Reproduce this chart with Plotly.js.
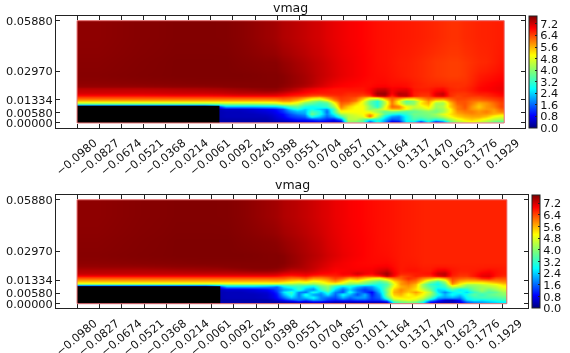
<!DOCTYPE html>
<html><head><meta charset="utf-8">
<script src="https://cdn.plot.ly/plotly-3.0.1.min.js"></script>
<style>html,body{margin:0;padding:0;background:#fff}#c{width:570px;height:353px;filter:blur(0.35px)}</style>
</head><body><div id="c"></div>
<script>
const xTickVals=[-0.098,-0.0827,-0.0674,-0.0521,-0.0368,-0.0214,-0.0061,0.0092,0.0245,0.0398,0.0551,0.0704,0.0857,0.1011,0.1164,0.1317,0.147,0.1623,0.1776,0.1929];
const xTickText=["−0.0980","−0.0827","−0.0674","−0.0521","−0.0368","−0.0214","−0.0061","0.0092","0.0245","0.0398","0.0551","0.0704","0.0857","0.1011","0.1164","0.1317","0.1470","0.1623","0.1776","0.1929"];
const yTickVals=[0,0.0058,0.01334,0.0297,0.0588];
const yTickText=["0.00000","0.00580","0.01334","0.02970","0.05880"];
const cbTicks=[0,0.8,1.6,2.4,3.2,4.0,4.8,5.6,6.4,7.2];
const cbText=["0.0","0.8","1.6","2.4","3.2","4.0","4.8","5.6","6.4","7.2"];
const xEdges=[-0.098,-0.07,-0.04,-0.02,0,0.009,0.018,0.027,0.036,0.041,0.046,0.051,0.056,0.061,0.066,0.071,0.076,0.081,0.086,0.091,0.096,0.101,0.106,0.111,0.116,0.121,0.126,0.131,0.136,0.141,0.146,0.151,0.156,0.161,0.166,0.171,0.176,0.181,0.186,0.191,0.196];
const yEdges=[0,0.0015,0.003,0.0045,0.006,0.0075,0.009,0.0105,0.012,0.0135,0.015,0.0165,0.018,0.02,0.0215,0.025,0.03,0.04,0.0588];
const stepX=[-0.098,0];
const stepY=[0,0.0099];
const domainX=[-0.098,0.196];
const domainY=[0,0.0588];
const jet=[[0,'#00007f'],[0.11,'#0000ff'],[0.35,'#00ffff'],[0.5,'#7aff7a'],[0.65,'#ffff00'],[0.89,'#ff0000'],[1,'#7f0000']];

const vmagTop=[
[.3,.3,.3,.3,.3,.3,.3,.3, .3,.3,.3,.4,.5,.5,.6,.5,.4,.4, 4.0,3.8,3.4,1.2,3.0,1.8,.5,.6,2.6,2.4,.8,2.6,.6,1.4,3.4,4.2,4.6,4.8,4.5,4.2,3.6,3.4],
[.3,.3,.3,.3,.3,.3,.3,.3, .5,.6,.8,1.0,1.0,1.2,1.4,1.1,.9,1.6, 4.4,4.4,3.8,2.8,3.0,2.2,1.4,1.6,2.8,3.4,3.0,3.4,3.0,3.4,4.2,4.8,5.2,5.4,5.2,4.8,4.4,4.2],
[.3,.3,.3,.3,.4,.4,.4,.4, .6,.8,1.2,1.4,1.6,3.0,2.4,1.6,2.2,3.4, 4.4,4.6,4.8,6.2,4.4,2.8,2.0,1.8,2.8,3.6,3.6,3.8,4,4.4,5.0,5.4,5.6,5.7,5.7,5.5,5.0,4.8],
[.3,.3,.3,.3,.4,.4,.4,.5, .7,.9,1.4,1.8,2.0,3.8,3.0,1.8,2.8,4.2, 4.6,4.8,5.0,5.6,4.8,3.6,3.0,2.8,3.2,3.8,3.8,3.9,4.2,4.8,5.2,5.6,5.8,5.9,5.8,5.8,5.6,5.4],
[.3,.3,.3,.3,.4,.4,.5,.6, .8,1.2,1.8,2.2,2.2,3.4,3.0,1.6,3.4,5.0, 5.0,5.0,5.0,4.8,4.2,3.6,3.8,3.6,3.4,3.6,3.8,4,3.8,4.2,5,5.8,6.0,6.0,5.8,6.0,5.7,6.0],
[.3,.3,.3,.3,.5,.5,.6,.8, 1.0,1.4,2.4,3.0,2.4,2.8,2.4,2.0,3.4,5.6, 5.2,5.0,5.0,4.0,4.2,5.0,5.6,5.6,5.0,4.2,4.4,4.8,4.0,4.2,5.0,6.0,6.2,5.8,5.6,5.8,5.8,6.2],
[.3,.3,.3,.3,2.2,2.2,2.2,2.3, 2.4,2.8,3.4,3.6,3.0,2.8,3.0,3.2,4.2,6.0, 5.4,5.0,5.0,4.0,3.0,4.8,6.2,6.0,5.0,4.6,4.8,5.2,4.2,4.4,5.4,6.0,6.3,5.8,5.4,5.8,6.0,6.4],
[4.3,4.3,4.3,4.3,4.4,4.4,4.4,4.5, 4.6,5.0,5.0,4.7,3.8,3.6,3.2,3.4,4.8,6.2, 6.0,5.4,4.8,3.6,3.0,4.4,6.0,5.0,3.8,4.0,5.2,5.6,4.2,4.2,5.4,6.2,6.3,6.0,5.6,5.8,6.1,6.4],
[5.5,5.5,5.5,5.5,5.5,5.5,5.5,5.5, 5.6,5.8,5.8,5.4,4.8,4.2,3.8,4.4,5.6,6.4, 6.3,6.0,5.0,3.8,3.0,4.6,6.1,5.0,3.6,4.0,5.0,5.8,5.0,4.8,5.8,6.3,6.3,6.1,6.0,6.1,6.3,6.5],
[6.2,6.2,6.2,6.2,6.2,6.2,6.2,6.2, 6.2,6.3,6.2,6.0,5.6,5.2,5.0,5.6,6.2,6.5, 6.4,6.2,5.6,4.8,4.6,5.6,6.2,5.8,5.4,5.4,5.8,6.2,6.0,6.0,6.2,6.4,6.4,6.3,6.3,6.4,6.5,6.6],
[6.75,6.75,6.8,6.8,6.85,6.9,6.9,6.9, 6.9,6.8,6.7,6.6,6.5,6.3,6.2,6.4,6.5,6.6, 6.5,6.5,6.3,6.4,7.2,7.3,6.6,7.2,7.3,6.7,6.5,6.5,7.0,7.1,6.6,6.4,6.5,6.5,6.5,6.6,6.7,6.8],
[7.15,7.15,7.2,7.2,7.25,7.3,7.3,7.3, 7.25,7.15,7.0,6.9,6.8,6.7,6.7,6.7,6.7,6.7, 6.6,6.6,6.6,6.8,7.55,7.6,6.9,7.4,7.3,6.7,6.6,6.6,7.1,7.3,6.6,6.5,6.5,6.6,6.7,6.7,6.8,6.9],
[7.3,7.3,7.35,7.4,7.45,7.5,7.55,7.6, 7.6,7.5,7.4,7.25,7.05,6.95,6.85,6.8,6.75,6.75, 6.75,6.75,6.75,6.9,7.25,7.3,6.95,7.05,7.1,6.75,6.7,6.7,6.85,6.9,6.65,6.6,6.62,6.72,6.85,6.9,6.95,7.0],
[7.55,7.55,7.6,7.6,7.65,7.68,7.7,7.7, 7.7,7.62,7.55,7.45,7.35,7.22,7.1,7.0,6.9,6.85, 6.85,6.82,6.8,6.85,6.95,6.98,6.88,6.9,6.85,6.7,6.65,6.65,6.7,6.72,6.6,6.55,6.6,6.7,6.85,6.9,6.95,7.0],
[7.65,7.68,7.7,7.72,7.72,7.72,7.72,7.72, 7.72,7.68,7.62,7.55,7.48,7.38,7.25,7.12,7.02,6.95, 6.9,6.88,6.85,6.82,6.85,6.85,6.8,6.8,6.78,6.7,6.65,6.6,6.6,6.58,6.55,6.55,6.55,6.65,6.78,6.85,6.9,6.95],
[7.7,7.73,7.75,7.75,7.75,7.75,7.74,7.72, 7.72,7.68,7.62,7.55,7.48,7.4,7.3,7.22,7.14,7.06, 7.0,6.95,6.9,6.85,6.82,6.8,6.76,6.72,6.68,6.64,6.6,6.55,6.5,6.48,6.45,6.45,6.5,6.6,6.7,6.75,6.8,6.85],
[7.68,7.72,7.75,7.75,7.75,7.72,7.7,7.68, 7.68,7.6,7.55,7.48,7.42,7.35,7.28,7.2,7.12,7.05, 7.0,6.95,6.9,6.85,6.8,6.78,6.74,6.7,6.68,6.64,6.6,6.55,6.5,6.48,6.45,6.45,6.5,6.55,6.6,6.62,6.68,6.75],
[7.65,7.7,7.73,7.73,7.72,7.68,7.62,7.55, 7.5,7.42,7.38,7.33,7.28,7.22,7.18,7.1,7.05,7.0, 6.95,6.92,6.88,6.84,6.8,6.78,6.76,6.74,6.72,6.7,6.68,6.65,6.62,6.58,6.55,6.55,6.6,6.62,6.65,6.66,6.68,6.7]
];

const vmagBottom=[
[.3,.3,.3,.3,.3,.3,.3,.3, .2,.3,.3,.4,.3,.5,.5,.4,.3,.3,.3,.3, .3,.3,.3,.4, 3.0,3.6,3.8,3.6,2.8,.8,.4,.4,.4,.6,1.4,1.8,2,2.2,2.4,2.6],
[.3,.3,.3,.3,.3,.3,.3,.3, .6,.9,1.3,1.7,1.3,1.9,1.7,1.2,1.0,1.2,1.1,1.3, 1.3,1.1,1.2,2.0, 4.2,4.5,4.8,4.6,3.8,2.2,1.2,.6,.5,1.0,2.4,2.8,2.6,2.8,3,3.2],
[.3,.3,.3,.3,.4,.4,.4,.5, .9,1.6,2.4,1.8,2.3,2.8,1.8,1.6,1.4,2.2,1.6,2.0, 2.0,1.2,1.6,3.4, 5.0,5.2,5.2,5.0,4.6,3.6,2.2,2.0,2.2,1.8,2.8,3.2,3.4,3.4,3.4,3.6],
[.3,.3,.3,.3,.4,.4,.4,.5, 1.0,2.2,3.0,1.7,3.0,2.0,1.8,2.6,1.6,2.8,2.2,1.4, 2.2,1.0,1.8,4.0, 5.4,5.6,5.0,5.4,5.0,4.2,3.0,2.2,2.8,2.4,3.0,3.6,3.2,3.6,3.8,4.0],
[.3,.3,.3,.3,.4,.4,.5,.6, 1.2,2.6,3.2,1.8,1.6,3.0,2.2,3.2,1.8,1.4,3.0,1.8, 1.3,.8,2.2,3.8, 5.6,5.8,5.4,5.8,5.2,4.4,2.6,1.8,2.6,3.0,2.4,3.2,3.8,3.4,3.6,4.2],
[.3,.3,.3,.3,.5,.5,.6,.8, 1.4,2.0,2.2,3.2,2.2,1.8,3.2,3.8,2.4,1.6,2.4,1.6, 1.2,1.6,2.4,4.0, 5.4,5.9,5.6,5.2,4.6,3.8,2.4,2.6,3.4,2.6,3.0,3.8,4.2,3.8,4.2,4.6],
[.3,.3,.3,.3,2.2,2.2,2.2,2.0, 1.6,2.6,3.0,3.2,2.8,2.6,3.6,4.0,3.0,2.4,2.8,2.2, 1.8,2.0,2.8,3.6, 5.0,5.6,5.8,5.4,4.2,3.4,3.0,3.2,4.6,4.4,3.8,4.0,4.2,4.4,4.6,5.0],
[4.3,4.3,4.3,4.3,4.4,4.4,4.4,4.4, 4.3,4.2,4.2,4.0,4.2,4.0,4.4,4.8,4.6,4.4,3.9,3.8, 3.6,3.2,3.0,3.4, 4.8,5.8,6.0,5.6,4.2,3.2,2.8,3.6,5.8,5.0,4.4,4.4,4.6,4.8,5.0,5.4],
[5.5,5.5,5.5,5.5,5.5,5.5,5.5,5.5, 5.6,5.4,5.2,5.0,5.2,4.8,5.0,5.4,5.8,5.2,4.6,4.8, 4.2,3.8,3.4,4.0, 5.2,5.8,6.2,6.0,5.2,4.0,3.2,4.2,6.2,5.6,5.4,5.4,5.4,5.6,5.8,5.9],
[6.2,6.2,6.2,6.2,6.2,6.2,6.2,6.2, 6.2,6.2,6.0,6.0,6.2,5.8,5.8,6.0,6.4,6.1,5.6,5.8, 5.4,5.0,4.8,5.4, 6.0,6.2,6.6,6.4,5.9,5.6,5.2,5.6,6.4,6.2,6.1,6.2,6.6,6.7,6.3,6.3],
[6.9,6.9,6.9,6.9,6.9,6.9,6.9,6.9, 6.85,6.7,6.6,6.7,6.8,6.55,6.45,6.55,6.65,6.7,6.6,6.65, 6.4,6.4,6.6,7.3, 6.85,6.35,6.5,6.7,6.6,6.6,7.0,7.2,6.65,6.5,6.5,6.75,7.05,7.1,6.75,6.6],
[7.3,7.3,7.3,7.3,7.3,7.3,7.3,7.3, 7.25,7.1,7.05,7.05,7.1,7.0,6.9,6.85,6.8,6.95,6.95,7.2, 7.0,6.9,7.25,7.55, 7.0,6.65,6.65,6.7,6.75,6.8,7.25,7.35,6.75,6.6,6.6,6.75,6.95,7.0,6.8,6.7],
[7.4,7.4,7.45,7.5,7.5,7.55,7.6,7.6, 7.55,7.45,7.3,7.3,7.3,7.2,7.05,7.0,6.9,6.9,6.95,6.95, 6.95,6.95,7.1,7.25, 6.9,6.72,6.78,6.78,6.72,6.72,6.95,7.0,6.75,6.68,6.68,6.7,6.78,6.85,6.78,6.7],
[7.55,7.55,7.6,7.6,7.65,7.68,7.7,7.7, 7.68,7.6,7.5,7.45,7.38,7.28,7.15,7.05,6.95,6.95,6.92,6.9, 6.9,6.9,6.98,7.02, 6.85,6.72,6.75,6.75,6.7,6.7,6.78,6.78,6.72,6.68,6.68,6.68,6.7,6.72,6.72,6.7],
[7.65,7.68,7.7,7.72,7.72,7.72,7.72,7.72, 7.72,7.68,7.6,7.52,7.42,7.32,7.22,7.12,7.02,6.96,6.92,6.88, 6.86,6.85,6.85,6.86, 6.8,6.72,6.72,6.7,6.66,6.66,6.66,6.66,6.66,6.66,6.66,6.66,6.66,6.66,6.66,6.66],
[7.7,7.73,7.75,7.75,7.75,7.75,7.74,7.72, 7.72,7.68,7.6,7.52,7.45,7.38,7.3,7.2,7.12,7.03,6.98,6.93, 6.88,6.84,6.82,6.8, 6.76,6.72,6.7,6.68,6.66,6.66,6.66,6.66,6.66,6.66,6.66,6.66,6.66,6.66,6.66,6.66],
[7.68,7.72,7.75,7.75,7.75,7.72,7.7,7.68, 7.65,7.58,7.52,7.46,7.4,7.32,7.25,7.15,7.08,7.0,6.96,6.92, 6.88,6.84,6.8,6.78, 6.75,6.72,6.7,6.68,6.66,6.66,6.66,6.66,6.66,6.66,6.66,6.66,6.66,6.66,6.66,6.66],
[7.65,7.7,7.73,7.73,7.72,7.68,7.62,7.55, 7.5,7.42,7.38,7.33,7.28,7.22,7.15,7.1,7.02,6.98,6.93,6.9, 6.86,6.83,6.8,6.78, 6.75,6.72,6.7,6.68,6.66,6.66,6.66,6.66,6.66,6.66,6.66,6.66,6.66,6.66,6.66,6.66]
];

const W=570,H=353,F='"DejaVu Sans"';
function hm(z,xa,ya,cbLeft,top,bottom){return {type:'heatmap',x:xEdges,y:yEdges,z:z,xaxis:xa,yaxis:ya,zmin:0,zmax:7.75,zsmooth:'best',colorscale:jet,hoverinfo:'skip',
 colorbar:{x:cbLeft/W,xanchor:'left',y:1-bottom/H,yanchor:'bottom',thickness:7.5,thicknessmode:'pixels',len:bottom-top,lenmode:'pixels',xpad:0,ypad:0,outlinecolor:'#222',outlinewidth:1,
 tickmode:'array',tickvals:cbTicks,ticktext:cbText,ticks:'inside',ticklen:2,tickcolor:'#222',tickfont:{family:F,size:11.3,color:'#111'}}};}
function xax(l,r,t,b,range,anchor){return {domain:[l/W,r/W],range:range,anchor:anchor,tickmode:'array',tickvals:xTickVals,ticktext:xTickText,tickangle:-40,ticks:'inside',ticklen:4,tickcolor:'#222',showline:true,linecolor:'#222',linewidth:1,mirror:'ticks',showgrid:false,zeroline:false,tickfont:{family:F,size:11.3,color:'#111'},ticklabelshift:17,ticklabelstandoff:3};}
function yax(t,b,range,anchor){return {domain:[1-b/H,1-t/H],range:range,anchor:anchor,tickmode:'array',tickvals:yTickVals,ticktext:yTickText,ticks:'inside',ticklen:4,tickcolor:'#222',showline:true,linecolor:'#222',linewidth:1,mirror:'ticks',showgrid:false,zeroline:false,tickfont:{family:F,size:11.3,color:'#111'}};}
function shapes(xr,yr){return [
 {type:'rect',xref:xr,yref:yr,x0:stepX[0],x1:stepX[1],y0:stepY[0],y1:stepY[1],fillcolor:'#000',line:{width:0},layer:'above'},
 {type:'rect',xref:xr,yref:yr,x0:domainX[0],x1:domainX[1],y0:domainY[0],y1:domainY[1],fillcolor:'rgba(0,0,0,0)',line:{color:'#e87070',width:1},layer:'above'}];}
const data=[hm(vmagTop,'x','y',528.5,16,128),hm(vmagBottom,'x2','y2',531.5,195,308.3)];
const layout={width:W,height:H,margin:{l:0,r:0,t:0,b:0},paper_bgcolor:'#fff',plot_bgcolor:'#fff',showlegend:false,
 xaxis:xax(56,525,16,128,[-0.1125,0.2103],'y'),yaxis:yax(16,128,[-0.0029,0.0615],'x'),
 xaxis2:xax(56,528,195,308.3,[-0.1124,0.2105],'y2'),yaxis2:yax(195,308.3,[-0.0026,0.0615],'x2'),
 shapes:shapes('x','y').concat(shapes('x2','y2')),
 annotations:[
 {text:'vmag',xref:'paper',yref:'paper',x:290.5/W,y:1-7/H,xanchor:'center',yanchor:'middle',showarrow:false,font:{family:F,size:12.5,color:'#111'}},
 {text:'vmag',xref:'paper',yref:'paper',x:292/W,y:1-184/H,xanchor:'center',yanchor:'middle',showarrow:false,font:{family:F,size:12.5,color:'#111'}}]};
Plotly.newPlot('c',data,layout,{displayModeBar:false,staticPlot:true});
</script></body></html>
